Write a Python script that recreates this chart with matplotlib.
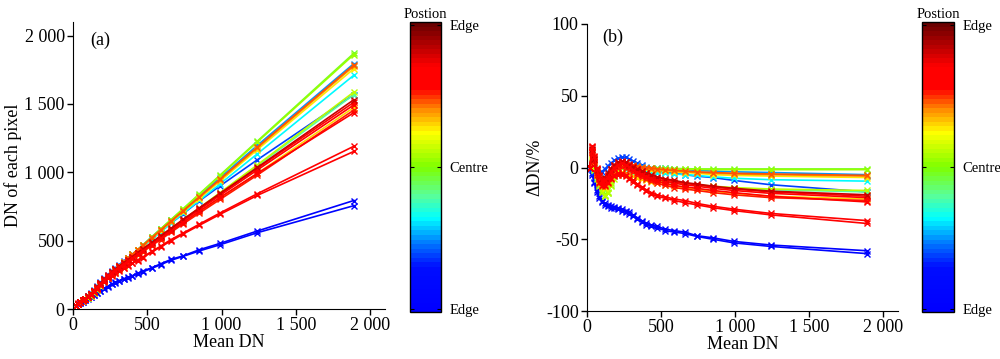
import numpy as np
import matplotlib
matplotlib.use("Agg")
import matplotlib.pyplot as plt
from matplotlib.colors import LinearSegmentedColormap
from matplotlib.ticker import FuncFormatter
import matplotlib.cm as cm

plt.rcParams['font.family'] = ['Liberation Serif', 'DejaVu Serif']
plt.rcParams['axes.unicode_minus'] = False

# ---------------- data ----------------
mean_dn = [20, 35, 50, 65, 80, 100, 120, 140, 160, 185, 210, 235, 260, 285, 310,
           340, 370, 400, 435, 470, 530, 590, 660, 740, 850, 990, 1240, 1890]

# pixel position on the detector (0 = one edge, 0.5 = centre, 1 = other edge)
positions = [0.02, 0.05, 0.20, 0.25, 0.32, 0.40, 0.48, 0.52, 0.56, 0.63,
             0.65, 0.70, 0.72, 0.76, 0.82, 0.84, 0.80, 0.78, 0.90, 0.81]

# relative deviation dDN (%) of each pixel from the mean DN
d_dn = [
    [0, -4, -10, -16, -20, -23, -25, -26, -27, -27.5, -28, -29, -30, -31, -33, -35, -37, -39, -40, -41, -43, -44, -45, -47.5, -49, -51.5, -54, -58],
    [-1, -5, -11, -17, -21, -24, -26, -27, -28, -28.5, -29, -30, -31, -32.5, -34, -36, -38, -40, -41, -42, -44, -45, -46, -48, -50, -52.5, -55, -60],
    [0, -1, -3, -4, -4, -3, -1, 1, 3, 5, 6.5, 7, 7, 6, 4.5, 3, 1.5, 0, -1, -2, -3, -4, -5, -6, -7, -9, -12, -17],
    [0, 2, 0, -3, -6, -8, -7, -4, -1, 1.5, 3, 3.5, 3, 2.5, 2, 1.5, 1, 0.5, 0, -0.5, -0.5, -1, -1.5, -2, -2.5, -3, -3.5, -5],
    [0, 3, 0, -5, -9, -12, -11, -8, -4, -1, 0.5, 1, 0.5, 0, -1, -1.5, -2, -2.5, -3, -3.5, -4, -4.5, -5, -5.5, -6.5, -7.5, -8.5, -9.5],
    [0, 2, -2, -7, -11, -14, -13, -10, -6, -3, -1, 0, -1, -2, -3.5, -5, -6, -7, -8, -9, -10, -11, -11.5, -12.5, -13.5, -14.5, -15.5, -17],
    [0, 4, 0, -6, -12, -17, -20, -18, -12, -6, -2, 0, 0.5, 0.5, 0.5, 0.3, 0, -0.2, -0.3, -0.5, -0.5, -0.7, -0.8, -1, -1, -1, -1, -1],
    [0, 5, 1, -5, -11, -16, -19, -17, -11, -5, -1.5, 0.5, 1, 1, 0.5, 0.3, 0, -0.3, -0.5, -0.7, -1, -1, -1.2, -1.3, -1.5, -1.5, -1.5, -1.5],
    [0, 3, -2, -8, -13, -17, -20, -18, -13, -8, -5, -4, -4.5, -5, -6, -7, -7.5, -8, -8.5, -9, -10, -10.5, -11.5, -12, -13, -14, -15, -16],
    [0, 8, 4, -4, -9, -13, -14, -11, -7, -3, 0, 1.5, 1.5, 1, 0.5, 0, -0.5, -1, -1.5, -2, -2.5, -3, -3.5, -4, -5, -5.5, -6, -7],
    [0, 6, 2, -5, -10, -13, -13, -10, -7, -4, -3, -3, -4, -5, -6, -7, -8, -9, -10, -11, -12, -13, -14, -15, -16.5, -18, -20, -22],
    [0, 10, 5, -3, -8, -11, -11, -8, -5, -1.5, 1, 2, 2, 1.5, 1, 0.5, 0, -0.5, -1, -1.5, -2, -2.5, -3, -3.5, -4, -4.5, -5, -6],
    [0, 11, 6, -2, -7, -10, -10, -7, -4, -1, 1.5, 2.5, 2.5, 2, 1.5, 1, 0.5, 0, -0.5, -1, -1.5, -2, -2.5, -3, -3.5, -4, -4.5, -5.5],
    [0, 12, 6, -3, -8, -10, -9, -6, -3, -1, 0, 0.5, 0, -1.5, -3, -5, -6.5, -8, -9.5, -11, -12.5, -14, -15, -16, -17.5, -19, -21, -23],
    [0, 15, 8, 0, -5, -8, -8, -5, -1, 2, 4, 4.5, 4, 2.5, 1, -1, -2.5, -4, -5.5, -7, -8.5, -10, -11, -12, -13.5, -15, -17, -20],
    [0, 14, 7, -1, -6, -9, -9, -6, -2, 1, 3, 4, 3.5, 2, 0, -2, -3.5, -5, -6.5, -8, -9.5, -11, -12, -13, -14.5, -16, -18, -21],
    [0, 12, 5, -4, -10, -12, -12, -10, -7, -5, -4, -4, -5, -7, -9, -11.5, -13.5, -15.5, -17.5, -19, -20.5, -22, -23, -25, -27, -29, -32, -37],
    [0, 11, 4, -5, -11, -13, -13, -11, -8, -6, -5, -5, -6, -8, -10, -12.5, -14.5, -16.5, -18.5, -20, -21.5, -23, -24.5, -26, -28, -30, -33, -39],
    [0, 13, 6, -2, -6, -8, -7, -4, -1, 2, 3.5, 4, 3.5, 2, 0.5, -1, -2.5, -4, -5, -6.5, -8, -9, -10.5, -11.5, -13, -14.5, -16.5, -19],
    [0, 14, 7, -1, -6, -9, -9, -7, -3, 0, 2, 3, 2, 0.5, -1.5, -3.5, -5, -6.5, -8, -9.5, -11, -12.5, -13.5, -14.5, -16, -17.5, -20, -24],
]

tick_vals = [0, 500, 1000, 1500, 2000]
cbar_labels = ['Edge', 'Centre', 'Edge']

# ---------------- colormap ----------------
cmap = LinearSegmentedColormap.from_list('pos', [
    (0.00, (0.0, 0.0, 1.0)),
    (0.15, (0.0, 0.05, 1.0)),
    (0.23, (0.0, 0.45, 1.0)),
    (0.32, (0.0, 1.0, 1.0)),
    (0.40, (0.35, 1.0, 0.6)),
    (0.50, (0.5, 1.0, 0.0)),
    (0.62, (1.0, 1.0, 0.0)),
    (0.70, (1.0, 0.55, 0.0)),
    (0.775, (1.0, 0.0, 0.0)),
    (0.85, (1.0, 0.0, 0.0)),
    (1.00, (0.42, 0.0, 0.0)),
], N=64)

W, H = 1000, 359
fig = plt.figure(figsize=(W / 100, H / 100), dpi=100)

def fax(l, t, r, b):
    return [l / W, 1 - b / H, (r - l) / W, (b - t) / H]

ax1 = fig.add_axes(fax(73, 22, 385, 309))
ax2 = fig.add_axes(fax(587, 24, 898, 311))
cax1 = fig.add_axes(fax(410, 22, 441, 312))
cax2 = fig.add_axes(fax(922, 22, 954, 312))

x = np.array(mean_dn, dtype=float)
for pos, d in zip(positions, d_dn):
    d = np.array(d, dtype=float)
    col = cmap(pos)
    dn = x * (1 + d / 100.0)
    ax1.plot(x, dn, '-', color=col, lw=1.2, marker='x', ms=5, mew=1.0)
    ax2.plot(x, d, '-', color=col, lw=1.2, marker='x', ms=5, mew=1.0)

fmt = FuncFormatter(lambda v, p: f"{int(v):,}".replace(',', ' '))
fs = 13
for ax in (ax1, ax2):
    for s in ('top', 'right'):
        ax.spines[s].set_visible(False)
    ax.set_xlim(0, 2100)
    ax.set_xticks(tick_vals)
    ax.xaxis.set_major_formatter(fmt)
    ax.tick_params(direction='out', length=4, width=1, labelsize=fs, pad=2)
    ax.set_xlabel('Mean DN', fontsize=fs, labelpad=0)

ax1.set_ylim(0, 2100)
ax1.set_yticks(tick_vals)
ax1.yaxis.set_major_formatter(fmt)
ax1.set_ylabel('DN of each pixel', fontsize=fs, labelpad=2)
ax1.text(0.055, 0.935, '(a)', transform=ax1.transAxes, fontsize=fs, va='center')

ax2.set_ylim(-100, 100)
ax2.set_yticks([-100, -50, 0, 50, 100])
ax2.set_ylabel('ΔDN/%', fontsize=fs, labelpad=2)
ax2.text(0.05, 0.955, '(b)', transform=ax2.transAxes, fontsize=fs, va='center')

sm = cm.ScalarMappable(cmap=cmap, norm=plt.Normalize(0, 1))
for cax in (cax1, cax2):
    cb = fig.colorbar(sm, cax=cax)
    cb.set_ticks([0.01, 0.5, 0.99])
    cb.set_ticklabels(cbar_labels)
    cax.tick_params(direction='in', length=3, labelsize=10.5, left=True, right=True, pad=6)
    cb.outline.set_linewidth(1)
    cax.set_title('Postion', fontsize=10.5, pad=3)

fig.savefig('out.png', dpi=100)
